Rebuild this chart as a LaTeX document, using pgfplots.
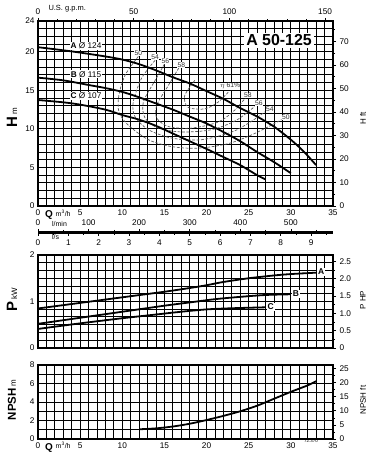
\documentclass[border=0pt]{standalone}
\usepackage{pgfplots}
\pgfplotsset{compat=1.18}
\usepackage{fontspec}
\setmainfont{Liberation Sans}
\newcommand{\tk}{\fontsize{8.3}{9}\selectfont}
\tikzset{efflab/.style={font=\fontsize{6.8}{7}\selectfont, fill=white, inner sep=0.4pt, text=black!80}}
\pgfplotsset{
  base/.style={
    scale only axis, width=295bp, xmin=0, xmax=35, clip=false,
    axis line style={line width=2.3pt},
    /pgf/number format/assume math mode=true,
    tick label style={font=\tk},
    tick style={black, line width=0.7pt},
  },
  gridded/.style={
    base,
    grid=both,
    major grid style={black, line width=1pt},
    minor grid style={black, line width=1pt},
    major tick length=0pt, minor tick length=0pt,
    xtick={0,5,...,35},
    minor xtick={0,1,...,35},
  },
  overlay/.style={
    base, axis x line=none, axis y line*=right,
    tick align=outside, major tick length=3bp, minor tick length=2bp,
  },
  curve/.style={black, line width=1.8pt, smooth},
  eff/.style={black!65, line width=0.7pt, smooth, dash pattern=on 2.8pt off 1.6pt},
}
\begin{document}
\begin{tikzpicture}
\path[use as bounding box] (0,0) rectangle (370bp,460bp);
% ---------------- H-Q chart ----------------
\begin{axis}[gridded, at={(38bp,254bp)}, anchor=south west, height=185bp,
  ymin=0, ymax=24, ytick={0,5,10,15,20,24}, minor ytick={0,1,...,24}]
  \node[fill=white, inner sep=2pt, font=\fontsize{16}{17}\selectfont\bfseries] at (axis cs:28.6,21.5) {A 50-125};
  \node[fill=white, inner sep=1pt, font=\fontsize{8.3}{9}\selectfont] at (axis cs:5.7,20.8) {\textbf{A} Ø 124};
  \node[fill=white, inner sep=1pt, font=\fontsize{8.3}{9}\selectfont] at (axis cs:5.7,17.1) {\textbf{B} Ø 115};
  \node[fill=white, inner sep=1pt, font=\fontsize{8.3}{9}\selectfont] at (axis cs:5.7,14.3) {\textbf{C} Ø 107};
  % efficiency contours
  \addplot[eff] coordinates {(11.9,19.4)(10.35,17.0)(9.6,14.4)(9.6,12.2)(10.7,10.5)(13.1,8.6)(15.9,7.7)(19.0,7.5)(22.6,8.1)(25.7,9.4)(28.9,11.2)};
  \addplot[eff] coordinates {(13.9,18.9)(12.3,16.6)(11.3,13.5)(11.5,11.6)(13.1,9.9)(15.9,8.8)(19.4,8.6)(23.0,9.6)(25.2,10.9)(26.9,12.2)};
  \addplot[eff] coordinates {(15.0,18.4)(13.9,16.3)(12.5,13.5)(12.7,11.4)(14.3,10.1)(17.1,9.6)(20.6,9.9)(23.5,11.1)(25.7,12.9)};
  \addplot[eff] coordinates {(16.7,17.9)(15.5,15.7)(14.1,13.1)(14.1,11.4)(15.5,10.3)(18.2,10.1)(21.4,10.9)(23.3,12.4)(24.6,14.0)};
  \addplot[eff] coordinates {(18.6,16.3)(17.4,14.3)(17.8,12.8)(19.8,12.6)(21.4,13.5)(22.6,14.8)};
  \node[efflab] at (axis cs:11.9,19.8) {50};
  \node[efflab] at (axis cs:13.9,19.3) {54};
  \node[efflab] at (axis cs:15.1,18.8) {56};
  \node[efflab] at (axis cs:17.0,18.3) {58};
  \node[efflab] at (axis cs:22.8,15.55) {$\eta$ 61\%};
  \node[efflab] at (axis cs:24.9,14.35) {58};
  \node[efflab] at (axis cs:26.2,13.4) {56};
  \node[efflab] at (axis cs:27.5,12.6) {54};
  \node[efflab] at (axis cs:29.4,11.5) {50};
  % H-Q curves
  \addplot[curve] coordinates {(0,20.6)(3,20.2)(5,19.9)(8,19.4)(10,19.0)(12,18.4)(14,17.6)(16,16.7)(18,15.9)(20,14.9)(22,13.9)(24,12.7)(26,11.6)(28,10.3)(30,8.6)(31.5,7.1)(33,5.3)};
  \addplot[curve] coordinates {(0,16.65)(3,16.3)(6,15.7)(8,15.3)(10,14.8)(12,14.1)(14,13.3)(16,12.5)(18,11.6)(20,10.7)(22,9.6)(24,8.4)(26,7.0)(28,5.7)(30,4.25)};
  \addplot[curve] coordinates {(0,13.75)(3,13.45)(5,13.15)(8,12.5)(10,11.8)(12,11.2)(14,10.4)(16,9.4)(18,8.4)(20,7.4)(22,6.35)(24,5.3)(26,4.0)(27,3.45)};
\end{axis}
\begin{axis}[base, at={(38bp,254bp)}, anchor=south west, height=185bp,
  xmin=0, xmax=154.11, ymin=0, ymax=78.74,
  axis x line*=top, axis y line*=right,
  tick align=outside, major tick length=3bp, minor tick length=2bp,
  xtick={0,50,100,150}, minor xtick={10,20,...,140},
  ytick={0,10,...,70}, minor ytick={5,15,...,75}]
\end{axis}
% ---------------- l/min and l/s scales ----------------
\begin{axis}[base, at={(38bp,227bp)}, anchor=south west, height=1bp,
  xmin=0, xmax=583.33, ymin=0, ymax=1,
  axis x line*=top, axis y line=none, axis line style={line width=1.8pt},
  tick align=outside, major tick length=3bp, minor tick length=2bp,
  xtick={0,100,...,500}, minor xtick={50,150,...,550}]
\end{axis}
\begin{axis}[base, at={(38bp,227bp)}, anchor=south west, height=1bp,
  xmin=0, xmax=9.7222, ymin=0, ymax=1,
  axis x line*=bottom, axis y line=none, axis line style={line width=1.8pt},
  tick align=outside, major tick length=3bp, minor tick length=2bp,
  xtick={0,1,...,9}, minor xtick={0.5,1.5,...,9.5}]
\end{axis}
% ---------------- P chart ----------------
\begin{axis}[gridded, at={(38bp,112bp)}, anchor=south west, height=93bp,
  ymin=0, ymax=2, ytick={0,1,2},
  minor ytick={0.1667,0.3333,0.5,0.6667,0.8333,1.1667,1.3333,1.5,1.6667,1.8333},
  xticklabels={}]
  \addplot[curve] coordinates {(0,0.85)(5,0.97)(10,1.09)(15,1.21)(18,1.29)(20,1.35)(22,1.42)(25,1.50)(28,1.56)(30,1.59)(33,1.62)};
  \addplot[curve] coordinates {(0,0.52)(5,0.65)(10,0.78)(15,0.91)(18,0.98)(21,1.05)(24,1.10)(27,1.14)(30,1.155)};
  \addplot[curve] coordinates {(0,0.41)(5,0.53)(10,0.64)(14,0.72)(17,0.78)(20,0.83)(23,0.855)(27,0.875)};
  \node[fill=white, inner sep=1pt, anchor=west, font=\fontsize{8.5}{9}\selectfont\bfseries] at (axis cs:33.1,1.64) {A};
  \node[fill=white, inner sep=1pt, anchor=west, font=\fontsize{8.5}{9}\selectfont\bfseries] at (axis cs:30.1,1.16) {B};
  \node[fill=white, inner sep=1pt, anchor=west, font=\fontsize{8.5}{9}\selectfont\bfseries] at (axis cs:27.1,0.88) {C};
\end{axis}
\begin{axis}[overlay, at={(38bp,112bp)}, anchor=south west, height=93bp,
  ymin=0, ymax=2.682, ytick={0,0.5,...,2.5}, yticklabels={0,0.5,1.0,1.5,2.0,2.5},
  minor ytick={0.25,0.75,...,2.25}]
\end{axis}
% ---------------- NPSH chart ----------------
\begin{axis}[gridded, at={(38bp,21bp)}, anchor=south west, height=74bp,
  ymin=0, ymax=8, ytick={0,2,...,8}, minor ytick={0,1,...,8}]
  \addplot[curve] coordinates {(12,1.05)(14,1.15)(16,1.35)(18,1.65)(20,2.05)(22,2.5)(24,3.0)(26,3.6)(28,4.35)(30,5.1)(32,5.8)(33,6.25)};
\end{axis}
\begin{axis}[overlay, at={(38bp,21bp)}, anchor=south west, height=74bp,
  ymin=0, ymax=26.247, ytick={0,5,...,25}, minor ytick={2.5,7.5,...,22.5}]
\end{axis}
% ---------------- text labels ----------------
\node[font=\fontsize{7.5}{8}\selectfont, anchor=west] at (45bp,451bp) {U.S. g.p.m.};
\node[anchor=base west, inner sep=0pt] at (45bp,242bp) {\fontsize{10}{11}\selectfont\textbf{Q} \fontsize{7}{8}\selectfont\raisebox{1.5bp}{m\textsuperscript{3}/h}};
\node[anchor=base west, inner sep=0pt, font=\fontsize{7}{8}\selectfont] at (52bp,233.5bp) {l/min};
\node[anchor=base west, inner sep=0pt, font=\fontsize{7}{8}\selectfont] at (52bp,220bp) {l/s};
\node[anchor=base west, inner sep=0pt] at (45bp,10bp) {\fontsize{10}{11}\selectfont\textbf{Q} \fontsize{7}{8}\selectfont\raisebox{1.5bp}{m\textsuperscript{3}/h}};
\node[font=\fontsize{4.5}{5}\selectfont, anchor=base] at (311bp,18bp) {72.370};
\node[rotate=90, anchor=center] at (12bp,342bp) {\fontsize{15}{16}\selectfont\textbf{H}\,\fontsize{8}{9}\selectfont m};
\node[rotate=90, anchor=center] at (12bp,160bp) {\fontsize{15}{16}\selectfont\textbf{P}\,\fontsize{8}{9}\selectfont kW};
\node[rotate=90, anchor=center] at (12bp,60bp) {\fontsize{11.5}{12}\selectfont\textbf{NPSH}\,\fontsize{8}{9}\selectfont m};
\node[rotate=90, anchor=center, font=\fontsize{8}{9}\selectfont] at (363bp,342bp) {H ft};
\node[rotate=90, anchor=center, font=\fontsize{8}{9}\selectfont] at (363bp,160bp) {P HP};
\node[rotate=90, anchor=center, font=\fontsize{8}{9}\selectfont] at (363bp,60bp) {NPSH ft};
\end{tikzpicture}
\end{document}
